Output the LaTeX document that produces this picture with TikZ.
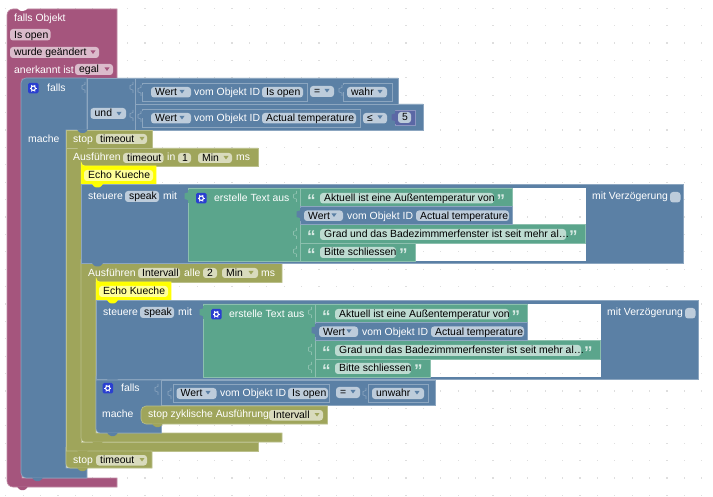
\documentclass[tikz,border=0pt]{standalone}
\usepackage{fontspec}
\setmainfont{Liberation Sans}
\definecolor{pinkb}{HTML}{A5557D}
\definecolor{pinkl}{HTML}{DBBBCB}
\definecolor{pinke}{HTML}{C08CA6}
\definecolor{blueb}{HTML}{5B80A5}
\definecolor{bluel}{HTML}{BDCCDB}
\definecolor{bluee}{HTML}{8CA6C0}
\definecolor{oliveb}{HTML}{9FA55B}
\definecolor{olivel}{HTML}{D9DBBD}
\definecolor{olivee}{HTML}{BBC08C}
\definecolor{greenb}{HTML}{5BA58C}
\definecolor{greenl}{HTML}{BDDBD1}
\definecolor{greene}{HTML}{8CC0AE}
\definecolor{yellowb}{HTML}{FFFF00}
\definecolor{yellowl}{HTML}{FFFF99}
\definecolor{numb}{HTML}{5B67A5}
\definecolor{iconb}{HTML}{2A3FD0}
\newcounter{nn}
\newcommand{\lab}[3]{\stepcounter{nn}\node[lbl] (n\thenn) at ({#1},{#2+.7}) {#3};}
\newcommand{\dlab}[3]{\stepcounter{nn}\node[lbl,text=black] (n\thenn) at ({#1},{#2+.7}) {#3};}
% \fld{col}{x1}{x2}{y1}{y2}{text}
\newcommand{\fld}[6]{\fill[#1,rounded corners=3] (#2,#4) rectangle (#3,#5);\dlab{#2+4}{(#4+#5)/2}{#6}}
% \tri{x}{y}{col}
\newcommand{\tri}[3]{\fill[#3] ({#1-2.5},{#2-1.5}) -- ({#1+2.5},{#2-1.5}) -- ({#1},{#2+2}) -- cycle;}
% \bump{x}{y}{col} small bump under a block
\newcommand{\bump}[3]{\fill[#3] ({#1},{#2-.5}) -- ({#1+2},{#2+2}) -- ({#1+4},{#2+3}) -- ({#1+7},{#2+3}) -- ({#1+9},{#2+2}) -- ({#1+11},{#2-.5}) -- cycle;}
% \tabo{x}{y}{col} puzzle outline
\newcommand{\tabo}[3]{\draw[#3,line width=.6] ({#1},{#2}) -- ({#1},{#2+2.5}) -- ({#1-3},{#2+3.5}) -- ({#1-3},{#2+7}) -- ({#1},{#2+8}) -- ({#1},{#2+11});}
\newcommand{\tabf}[3]{\fill[#3] ({#1},{#2}) -- ({#1},{#2+2.5}) -- ({#1-3.5},{#2+3.5}) -- ({#1-3.5},{#2+9}) -- ({#1},{#2+10}) -- ({#1},{#2+13}) -- ({#1+1},{#2+13}) -- ({#1+1},{#2}) -- cycle;}
\newcommand{\ico}[2]{\fill[iconb,rounded corners=1.5] (#1,#2) rectangle ({#1+10.5},{#2+10.5});
  \draw[white,line width=1.1] ({#1+5.25},{#2+5.25}) circle (2.2);
  \foreach \a in {0,60,...,300}{\draw[white,line width=.9] ({#1+5.25},{#2+5.25}) ++(\a:2.4) -- ++(\a:1.3);}}
\newcommand{\qo}[2]{\stepcounter{nn}\node[qt] (n\thenn) at (#1,{#2+8}) {“};}
\newcommand{\qc}[2]{\stepcounter{nn}\node[qt] (n\thenn) at (#1,{#2+8}) {”};}
% one speak block, shifted through a scope
\newcommand{\speak}{%
  \fill[yellowb,draw=yellowb!80!white,line width=.5] (81,166) -- (156,166) -- (156,184.5) -- (81,184.5) [rounded corners=4] -- (81,166) -- cycle;
  \fill[yellowl,rounded corners=3] (84,170) rectangle (153,181);
  \dlab{88}{175.5}{Echo Kueche}
  \fill[blueb,draw=bluee,line width=.6] (81,184.5) -- (683.5,184.5) -- (683.5,263.5) -- (81,263.5) -- cycle;
  \bump{92}{184.5}{yellowb}
  \fill[white] (188,188) rectangle (586,261);
  \foreach \i in {0,...,22}{\foreach \j in {0,...,3}{\fill[dotc] ({\gx+\i*17.4},{\gy+\j*17.4}) rectangle ++(1.2,1.2);}}
  \fill[greenb,draw=greene,line width=.6] (188,188) -- (512,188) -- (512,206) -- (300,206) -- (300,224.5) -- (585.5,224.5) -- (585.5,243) -- (415.5,243) -- (415.5,261) -- (188,261) -- cycle;
  \draw[greene,line width=.6] (300,188) -- (300,206) (300,224.5) -- (300,261) (300,243) -- (415.5,243);
  \fill[blueb,draw=bluee,line width=.6] (300,206) -- (512,206) -- (512,224.5) -- (300,224.5) -- cycle;
  \tabf{300}{208}{blueb}
  \tabf{188}{190}{greenb}
  \tabo{296.5}{191}{greene}\tabo{296.5}{228}{greene}\tabo{296.5}{246}{greene}
  \lab{88}{196}{steuere}
  \fld{bluel}{125}{159}{191}{202}{speak}
  \lab{163}{196}{mit}
  \ico{196}{193}
  \lab{214}{198}{erstelle Text aus}
  \qo{307}{199}
  \fld{greenl}{320}{494}{193}{203.5}{Aktuell ist eine Außentemperatur von}
  \qc{496.5}{199}
  \fld{bluel}{304}{343}{210.5}{221}{Wert}\tri{334}{215}{blueb}
  \lab{347}{216}{vom Objekt ID}
  \fld{bluel}{416}{509}{210.5}{221}{Actual temperature}
  \qo{307}{235}
  \fld{greenl}{320}{566}{229}{240}{Grad und das Badezimmmerfenster ist seit mehr al…}
  \qc{569}{235}
  \qo{307}{253}
  \fld{greenl}{320}{396}{247}{258}{Bitte schliessen}
  \qc{399}{253}
  \lab{592}{196.5}{mit Verzögerung}
  \fill[bluel,rounded corners=3] (670,192) rectangle (680.5,202.5);
  \bump{92}{263.5}{blueb}
}
\tikzset{
  x=1pt,y=-1pt,
  lbl/.style={anchor=mid west,inner sep=0pt,text=white,font=\fontsize{10.4}{12}\selectfont},
  qt/.style={anchor=base west,inner sep=0pt,text=greenl!60!white,font=\fontsize{17}{17}\selectfont\bfseries},
}
\colorlet{dotc}{black!13}
\begin{document}
\begin{tikzpicture}
\useasboundingbox (0,0) rectangle (713,497);
\fill[white] (0,0) rectangle (713,497);
% grid dots
\foreach \i in {0,...,40}{\foreach \j in {0,...,28}{\fill[dotc] ({5.2+\i*17.4},{7.6+\j*17.4}) rectangle ++(1.2,1.2);}}
% --- pink hat
\fill[pinkb,draw=pinke,line width=.6] (117,9) -- (117,79) -- (22,79) -- (22,478) -- (117,478) -- (117,487) [rounded corners=6] -- (7,487) -- (7,9) [sharp corners] -- (117,9) -- cycle;
\fill[white] (17,8) -- (28,8) -- (26,10) -- (23,11) -- (21,11) -- (19,10) -- cycle;
\bump{17}{487}{pinkb}
\lab{14}{18}{falls Objekt}
\fld{pinkl}{10}{50.5}{29}{40.5}{Is open}
\fld{pinkl}{10}{99}{47}{58}{wurde geändert}\tri{93}{52}{pinkb}
\lab{14}{70}{anerkannt ist}
\fld{pinkl}{75}{113}{64}{75}{egal}\tri{107}{69}{pinkb}
% --- blue falls
\fill[blueb,draw=bluee,line width=.6] (87,78) -- (87,130) -- (66,130) -- (66,468) -- (87,468) -- (87,478) [rounded corners=5] -- (21,478) -- (21,78) [sharp corners] -- (87,78) -- cycle;
\bump{32}{478}{blueb}
\fill[blueb,draw=bluee,line width=.6] (87,78) -- (398,78) -- (398,104) -- (423,104) -- (423,130) -- (87,130) -- cycle;
\draw[bluee,line width=.6] (135,78) -- (135,130) (135,104) -- (398,104);
\draw[bluee,line width=.6] (142,83) rectangle (307,101) (142,109) rectangle (360,127) (343,83) rectangle (392,101);
\fill[blueb] (141,85) rectangle (143,92) (141,111) rectangle (143,118) (342,85) rectangle (344,92);
\tabo{85}{82}{bluee}\tabo{133}{82}{bluee}\tabo{133}{110}{bluee}\tabo{141}{85}{bluee}\tabo{141}{111}{bluee}\tabo{342}{85}{bluee}
\ico{28}{83}
\lab{47}{88}{falls}
\lab{28}{139}{mache}
\fld{bluel}{90.5}{126}{108}{119}{und}\tri{119}{113.5}{blueb}
\fld{bluel}{151}{191}{87}{97.5}{Wert}\tri{182}{91.5}{blueb}
\lab{194}{92}{vom Objekt ID}
\fld{bluel}{262}{303}{87}{97.5}{Is open}
\fld{bluel}{310}{334}{86}{97}{=}\tri{327}{90.5}{blueb}
\fld{bluel}{347}{387}{87}{97.5}{wahr}\tri{380}{91.5}{blueb}
\fld{bluel}{151}{191}{113}{123.5}{Wert}\tri{182}{117.5}{blueb}
\lab{194}{118}{vom Objekt ID}
\fld{bluel}{262}{356}{113}{123.5}{Actual temperature}
\fld{bluel}{363}{387}{113}{123.5}{≤}\tri{380}{117}{blueb}
\fill[numb,draw=numb!70!white,line width=.6] (395,110) rectangle (415,125);
\tabf{395}{111}{numb}
\fld{bluel}{398}{411}{112}{123}{5}
% --- olive stop / timeout
\fill[oliveb,draw=olivee,line width=.6] (66,130) -- (152,130) -- (152,148) -- (66,148) -- cycle;
\bump{77}{130}{blueb}
\lab{73}{139}{stop}
\fld{olivel}{96}{147}{134}{144}{timeout}\tri{142}{138.5}{oliveb}
\fill[oliveb,draw=olivee,line width=.6] (66,148) -- (258,148) -- (258,166) -- (81,166) -- (81,442) -- (258,442) -- (258,451) -- (66,451) -- cycle;
\bump{77}{148}{oliveb}
\lab{73}{157}{Ausführen}
\fld{olivel}{123}{163.5}{153}{163}{timeout}
\lab{167}{157.5}{in}
\fld{olivel}{178}{191}{153}{163}{1}
\fld{olivel}{198}{232}{153}{163}{Min}\tri{226}{157.5}{oliveb}
\lab{236}{157.5}{ms}
% --- olive interval
\fill[oliveb,draw=olivee,line width=.6] (81,263.5) -- (282,263.5) -- (282,282.5) -- (96,282.5) -- (96,433) -- (282,433) -- (282,442) [rounded corners=4] -- (81,442) -- (81,263.5) [sharp corners] -- cycle;
\bump{92}{442}{oliveb}
\lab{88}{273}{Ausführen}
\fld{olivel}{138}{180}{268}{278}{Intervall}
\lab{184}{273}{alle}
\fld{olivel}{203}{217}{268}{278}{2}
\fld{olivel}{222}{258}{268}{278}{Min}\tri{251}{272.5}{oliveb}
\lab{261}{273}{ms}
% --- first speak block
\def\gx{196.6}\def\gy{199}
\speak
% --- second speak block
\begin{scope}[shift={(15,116)}]
\def\gx{199}\def\gy{204.8}
\speak
\end{scope}
% --- inner falls
\fill[blueb,draw=bluee,line width=.6] (96,380) -- (161.5,380) -- (161.5,433) [rounded corners=4] -- (96,433) -- (96,380) [sharp corners] -- cycle;
\bump{107}{433}{blueb}
\fill[blueb,draw=bluee,line width=.6] (161.5,380.5) -- (435.5,380.5) -- (435.5,405.5) -- (161.5,405.5) -- cycle;
\draw[bluee,line width=.6] (173,384) rectangle (329.5,402.5) (368,384) rectangle (428,402.5);
\tabo{158}{384}{bluee}\tabo{171}{388}{bluee}\tabo{366}{388}{bluee}
\ico{102.5}{383}
\lab{121}{388}{falls}
\lab{102}{414}{mache}
\fld{bluel}{176.5}{216.5}{388}{399}{Wert}\tri{208}{392.5}{blueb}
\lab{220}{393.5}{vom Objekt ID}
\fld{bluel}{288}{328}{388}{399}{Is open}
\fld{bluel}{336}{360}{387}{398}{=}\tri{353}{391.5}{blueb}
\fld{bluel}{372}{424}{388}{399}{unwahr}\tri{417}{392.5}{blueb}
\fill[oliveb,draw=olivee,line width=.6] (327.5,406) -- (327.5,424) -- (162,424) -- (146,424) [rounded corners=5] -- (141,424) -- (141,406) [sharp corners] -- (327.5,406) -- cycle;
\bump{152}{424}{oliveb}
\lab{148}{414.5}{stop zyklische Ausführung}
\fld{olivel}{269}{323}{410}{420.5}{Intervall}\tri{317}{414.5}{oliveb}
% --- last stop
\fill[oliveb,draw=olivee,line width=.6] (66,451) -- (152,451) -- (152,468) [rounded corners=4] -- (66,468) -- (66,451) [sharp corners] -- cycle;
\bump{77}{451}{oliveb}
\bump{77}{468}{oliveb}
\lab{73}{460}{stop}
\fld{olivel}{96}{147}{455}{465.5}{timeout}\tri{142}{459.5}{oliveb}
\end{tikzpicture}
\end{document}
